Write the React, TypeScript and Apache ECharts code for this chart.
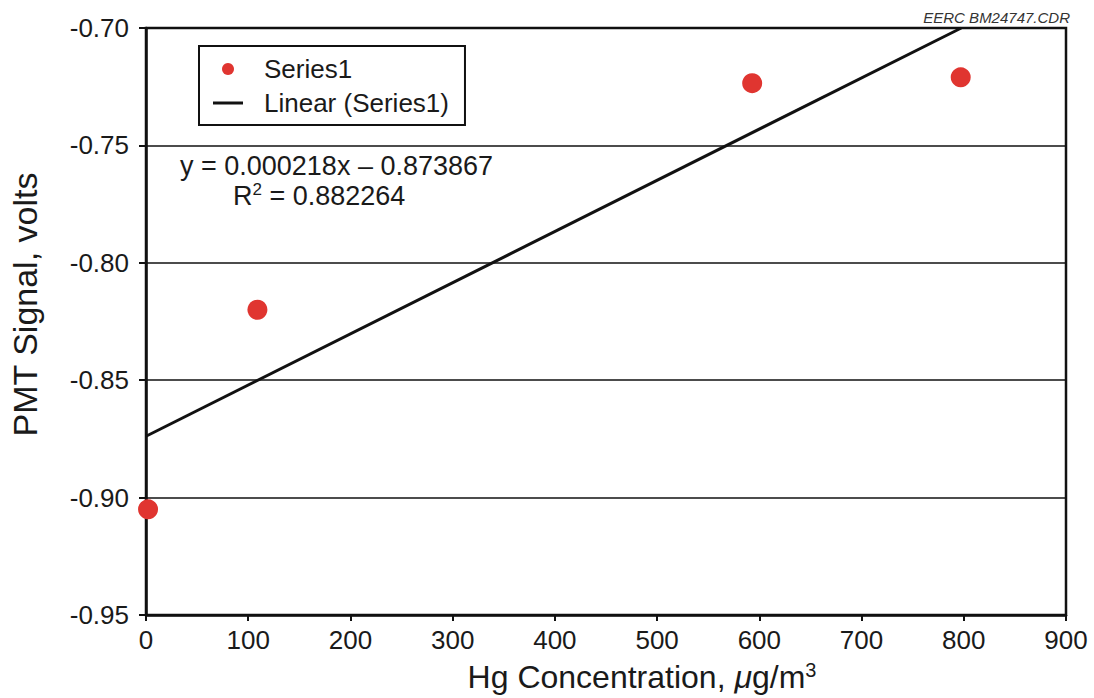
import React, { useEffect, useRef } from "react";
import * as echarts from "echarts";

// Data
const hgConcentration = [2, 109, 593, 797];
const pmtSignal = [-0.905, -0.82, -0.7235, -0.721];
const trendSlope = 0.000218;
const trendIntercept = -0.873867;
const rSquared = "0.882264";
const xTicks = { min: 0, max: 900, interval: 100 };
const yTicks = { min: -0.95, max: -0.7, interval: 0.05 };

const trendXStart = 0;
const trendXEnd = (yTicks.max - trendIntercept) / trendSlope;
const trendLine = [
  [trendXStart, trendIntercept + trendSlope * trendXStart],
  [trendXEnd, trendIntercept + trendSlope * trendXEnd],
];

const FONT = "'Liberation Sans', Arial, Helvetica, sans-serif";
const INK = "#1a1a1a";

export default function App() {
  const ref = useRef<HTMLDivElement>(null);
  useEffect(() => {
    if (!ref.current) return;
    const chart = echarts.init(ref.current, undefined, { renderer: "svg" });
    chart.setOption({
      animation: false,
      backgroundColor: "#ffffff",
      textStyle: { fontFamily: FONT },
      grid: {
        left: 146,
        right: 28,
        top: 28,
        bottom: 82,
        show: true,
        borderColor: "#111",
        borderWidth: 2.5,
        backgroundColor: "transparent",
      },
      legend: {
        left: 199,
        top: 46,
        orient: "vertical",
        borderColor: "#111",
        borderWidth: 2,
        padding: [10, 16, 9, 14],
        itemGap: 8,
        itemWidth: 30,
        itemHeight: 12,
        textStyle: { fontSize: 26, color: INK, fontFamily: FONT, padding: [0, 0, 0, 16] },
        data: [
          { name: "Series1", icon: "circle" },
          {
            name: "Linear (Series1)",
            icon: "path://M0,0 L30,0 L30,3 L0,3 Z",
            itemStyle: { color: "#111" },
          },
        ],
      },
      xAxis: {
        type: "value",
        min: xTicks.min,
        max: xTicks.max,
        interval: xTicks.interval,
        axisLine: { show: true, lineStyle: { color: "#111", width: 2.5 } },
        axisTick: { show: true, inside: false, length: 6, lineStyle: { color: "#111", width: 2 } },
        axisLabel: { fontSize: 26, color: INK, margin: 12, fontFamily: FONT },
        splitLine: { show: false },
        name: "{a|Hg Concentration, }{i|μ}{a|g/m}{s|3}",
        nameLocation: "middle",
        nameGap: 45,
        nameTextStyle: {
          padding: [0, 0, 0, 72],
          rich: {
            a: { fontSize: 32, color: INK, fontFamily: FONT },
            i: { fontSize: 32, color: INK, fontStyle: "italic", fontFamily: FONT },
            s: { fontSize: 20, color: INK, fontFamily: FONT, padding: [0, 0, 14, 0] },
          },
        },
      },
      yAxis: {
        type: "value",
        min: yTicks.min,
        max: yTicks.max,
        interval: yTicks.interval,
        axisLine: { show: true, lineStyle: { color: "#111", width: 2.5 } },
        axisTick: { show: true, inside: false, length: 7, lineStyle: { color: "#111", width: 2 } },
        axisLabel: {
          fontSize: 26,
          color: INK,
          margin: 17,
          fontFamily: FONT,
          formatter: (v: number) => v.toFixed(2),
        },
        splitLine: { show: true, lineStyle: { color: "#111", width: 1.5 } },
        name: "PMT Signal, volts",
        nameLocation: "middle",
        nameGap: 104,
        nameTextStyle: { fontSize: 34, color: INK, fontFamily: FONT, padding: [0, 0, 0, 34] },
      },
      series: [
        {
          name: "Series1",
          type: "scatter",
          data: hgConcentration.map((x, i) => [x, pmtSignal[i]]),
          symbol: "circle",
          symbolSize: 20,
          itemStyle: { color: "#e03530", opacity: 1 },
          z: 5,
        },
        {
          name: "Linear (Series1)",
          type: "line",
          data: trendLine,
          showSymbol: false,
          symbol: "none",
          lineStyle: { color: "#111", width: 3 },
          itemStyle: { color: "#111" },
          z: 4,
        },
      ],
      graphic: [
        {
          type: "text",
          left: 180,
          top: 152,
          style: {
            text: `y = ${trendSlope.toFixed(6)}x – ${Math.abs(trendIntercept).toFixed(6)}`,
            fontSize: 27,
            fill: INK,
            fontFamily: FONT,
          },
        },
        {
          type: "text",
          left: 233,
          top: 181,
          style: {
            text: `{a|R}{s|2}{a| = ${rSquared}}`,
            rich: {
              a: { fontSize: 27, fill: INK, fontFamily: FONT },
              s: { fontSize: 17, fill: INK, fontFamily: FONT, padding: [0, 0, 12, 0] },
            },
          },
        },
        {
          type: "text",
          right: 24,
          top: 10,
          style: {
            text: "EERC BM24747.CDR",
            fontSize: 15,
            fontStyle: "italic",
            fill: "#333",
            fontFamily: FONT,
          },
        },
      ],
    });
    return () => chart.dispose();
  }, []);
  return (
    <div
      ref={ref}
      style={{ position: "fixed", left: 0, top: 0, width: 1094, height: 698, background: "#fff" }}
    />
  );
}
